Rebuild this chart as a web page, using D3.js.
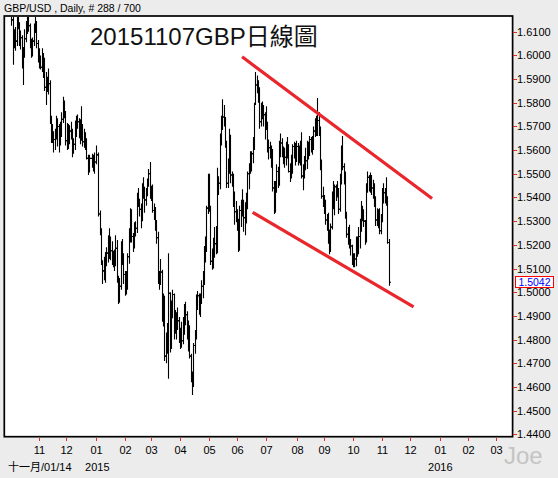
<!DOCTYPE html>
<html><head><meta charset="utf-8">
<script src="https://cdn.jsdelivr.net/npm/d3@7"></script>
<style>body{margin:0;background:#ececec} svg{display:block}</style>
</head><body><svg id="c" width="558" height="478"></svg>
<script>
// ---------------- DATA ----------------
const symbolHeader = "GBP/USD , Daily, # 288 / 700";
const chartTitle = "20151107GBP日線圖";
const firstDate = "2014-09-29";
const axisEnd = "2016-03-31";
const holidays = ["2014-12-25", "2015-01-01"];
const startLabel = "十一月/01/14";
const yearLabels = [{date: "2015-01-02", text: "2015"}, {date: "2016-01-01", text: "2016"}];
const yTicks = [1.61,1.60,1.59,1.58,1.57,1.56,1.55,1.54,1.53,1.52,1.51,1.50,1.49,1.48,1.47,1.46,1.45,1.44];
const lastPrice = 1.5042;
const channelUpper = [{date: "2015-06-04", price: 1.5994}, {date: "2015-12-23", price: 1.5396}];
const channelLower = [{date: "2015-06-16", price: 1.5337}, {date: "2015-12-03", price: 1.4938}];
const watermark = "Joe";

const openP = [
1.6225,1.6245,1.6215,1.6200,1.6150,1.6045,1.6085,1.6060,1.6150,1.6125,1.6085,1.6075,1.5960,1.6020,1.6070,1.6125,1.6160,1.6125,1.6050,1.6005,1.6060,1.6125,1.6135,1.6050,1.6005,
1.5995,1.5950,1.6000,1.5960,1.5865,1.5895,1.5865,1.5880,1.5725,1.5675,1.5665,1.5645,1.5655,1.5710,1.5700,1.5650,1.5700,1.5730,1.5800,1.5750,
1.5640,1.5695,1.5650,1.5680,1.5665,1.5590,1.5625,1.5690,1.5720,1.5720,1.5710,1.5650,1.5700,1.5635,1.5665,1.5640,1.5565,1.5515,1.5565,1.5540,1.5525,1.5550,
1.5580,1.5330,1.5250,1.5125,1.5090,1.5095,1.5140,1.5165,1.5200,1.5190,1.5175,1.5135,1.5140,1.5120,1.5185,1.5055,1.4970,1.5025,1.5200,1.5160,1.5075,
1.5040,1.5055,1.5150,1.5235,1.5345,1.5235,1.5205,1.5275,1.5270,1.5385,1.5390,1.5350,1.5310,1.5440,1.5420,1.5390,1.5435,1.5465,1.5500,1.5405,
1.5435,1.5345,1.5345,1.5275,1.5230,1.5050,1.5065,1.5085,1.4895,1.4975,1.4730,1.4805,1.4780,1.4995,1.4775,1.4910,1.4990,1.4840,1.4895,1.4890,1.4880,1.4800,
1.4820,1.4795,1.4870,1.4930,1.4905,1.4815,1.4850,1.4730,1.4630,1.4625,1.4775,1.4810,1.4965,1.4985,1.4940,1.4965,1.5025,1.5050,1.5175,1.5185,1.5355,1.5480,
1.5350,1.5130,1.5135,1.5160,1.5205,1.5265,1.5460,1.5460,1.5650,1.5725,1.5740,1.5730,1.5635,1.5460,1.5520,1.5660,1.5495,1.5495,1.5395,1.5340,1.5330,
1.5285,1.5190,1.5345,1.5345,1.5385,1.5315,1.5345,1.5370,1.5500,1.5530,1.5565,1.5585,1.5645,1.5795,1.5875,1.5865,1.5850,1.5720,1.5770,1.5770,1.5750,1.5745,
1.5710,1.5610,1.5610,1.5605,1.5595,1.5440,1.5345,1.5440,1.5510,1.5460,1.5625,1.5630,1.5610,1.5580,1.5570,1.5610,1.5620,1.5510,1.5520,1.5540,1.5615,1.5615,1.5580,
1.5615,1.5605,1.5610,1.5595,1.5490,1.5495,1.5560,1.5555,1.5615,1.5595,1.5645,1.5605,1.5635,1.5680,1.5705,1.5700,1.5725,1.5690,1.5550,1.5405,1.5375,
1.5345,1.5305,1.5285,1.5240,1.5180,1.5275,1.5405,1.5370,1.5445,1.5430,1.5420,1.5350,1.5480,1.5605,1.5530,1.5505,1.5325,1.5245,1.5215,1.5205,1.5195,1.5145,
1.5125,1.5140,1.5180,1.5180,1.5235,1.5285,1.5335,1.5315,1.5300,1.5235,1.5445,1.5485,1.5450,1.5480,1.5440,1.5455,1.5380,1.5305,1.5340,1.5335,1.5260,1.5310,
1.5430,1.5420,1.5420,1.5380,1.5210];

const highP = [
1.6290,1.6260,1.6240,1.6225,1.6175,1.6110,1.6120,1.6170,1.6225,1.6140,1.6105,1.6085,1.6035,1.6110,1.6145,1.6185,1.6180,1.6135,1.6070,1.6075,1.6135,1.6170,1.6145,1.6065,1.6030,
1.6000,1.6030,1.6010,1.5990,1.5930,1.5910,1.5945,1.5895,1.5745,1.5710,1.5680,1.5690,1.5745,1.5735,1.5710,1.5720,1.5760,1.5825,1.5810,1.5765,
1.5715,1.5710,1.5705,1.5720,1.5690,1.5650,1.5725,1.5745,1.5750,1.5735,1.5730,1.5785,1.5710,1.5690,1.5675,1.5650,1.5580,1.5580,1.5585,1.5580,1.5590,1.5620,
1.5590,1.5345,1.5270,1.5135,1.5150,1.5170,1.5190,1.5240,1.5270,1.5235,1.5215,1.5175,1.5180,1.5240,1.5220,1.5070,1.5060,1.5215,1.5225,1.5165,1.5090,
1.5090,1.5165,1.5270,1.5355,1.5350,1.5250,1.5295,1.5300,1.5420,1.5440,1.5395,1.5375,1.5460,1.5485,1.5445,1.5440,1.5480,1.5520,1.5550,1.5450,
1.5455,1.5375,1.5360,1.5305,1.5255,1.5090,1.5140,1.5095,1.4995,1.4985,1.4830,1.4870,1.5165,1.5000,1.4965,1.5010,1.4995,1.4925,1.4915,1.4935,1.4895,1.4850,
1.4875,1.4895,1.4950,1.4960,1.4920,1.4880,1.4860,1.4740,1.4665,1.4785,1.4840,1.4990,1.5005,1.4995,1.4995,1.5050,1.5090,1.5195,1.5235,1.5365,1.5500,1.5500,
1.5365,1.5185,1.5230,1.5275,1.5280,1.5525,1.5490,1.5670,1.5745,1.5815,1.5790,1.5740,1.5640,1.5565,1.5690,1.5665,1.5510,1.5500,1.5425,1.5385,1.5350,
1.5310,1.5365,1.5390,1.5435,1.5390,1.5380,1.5420,1.5510,1.5545,1.5595,1.5595,1.5655,1.5800,1.5930,1.5915,1.5895,1.5865,1.5800,1.5805,1.5790,1.5760,1.5785,
1.5720,1.5645,1.5635,1.5620,1.5605,1.5470,1.5470,1.5540,1.5530,1.5640,1.5670,1.5650,1.5615,1.5610,1.5635,1.5655,1.5625,1.5545,1.5580,1.5625,1.5635,1.5630,1.5640,
1.5630,1.5620,1.5640,1.5675,1.5540,1.5575,1.5610,1.5640,1.5635,1.5660,1.5655,1.5660,1.5700,1.5735,1.5745,1.5820,1.5760,1.5700,1.5560,1.5445,1.5410,
1.5390,1.5330,1.5335,1.5265,1.5290,1.5425,1.5470,1.5455,1.5455,1.5470,1.5440,1.5500,1.5620,1.5660,1.5545,1.5510,1.5340,1.5275,1.5285,1.5225,1.5200,1.5165,
1.5165,1.5235,1.5235,1.5275,1.5310,1.5385,1.5365,1.5350,1.5305,1.5460,1.5510,1.5495,1.5505,1.5495,1.5475,1.5460,1.5405,1.5355,1.5350,1.5355,1.5330,1.5440,
1.5460,1.5440,1.5485,1.5405,1.5225];

const lowP = [
1.6215,1.6185,1.6170,1.6125,1.5960,1.6030,1.6020,1.6040,1.6110,1.6040,1.6025,1.5945,1.5875,1.5990,1.6055,1.6090,1.6100,1.6030,1.5990,1.5995,1.6040,1.6095,1.6030,1.5970,1.5945,
1.5940,1.5930,1.5905,1.5850,1.5790,1.5845,1.5835,1.5710,1.5630,1.5630,1.5590,1.5600,1.5645,1.5615,1.5590,1.5620,1.5655,1.5715,1.5735,1.5620,
1.5600,1.5605,1.5625,1.5645,1.5570,1.5585,1.5600,1.5655,1.5690,1.5650,1.5625,1.5640,1.5615,1.5610,1.5600,1.5560,1.5495,1.5505,1.5525,1.5510,1.5500,1.5540,
1.5320,1.5240,1.5115,1.5035,1.5050,1.5040,1.5110,1.5125,1.5140,1.5135,1.5115,1.5105,1.5090,1.5110,1.5040,1.4950,1.4955,1.5010,1.5115,1.5035,1.4985,
1.4990,1.5010,1.5120,1.5210,1.5210,1.5170,1.5185,1.5235,1.5250,1.5360,1.5320,1.5270,1.5300,1.5395,1.5335,1.5365,1.5405,1.5445,1.5395,1.5385,
1.5335,1.5305,1.5260,1.5205,1.5035,1.5010,1.5030,1.4875,1.4855,1.4710,1.4700,1.4740,1.4635,1.4745,1.4760,1.4890,1.4800,1.4825,1.4800,1.4840,1.4785,1.4760,
1.4765,1.4780,1.4820,1.4860,1.4800,1.4750,1.4720,1.4620,1.4566,1.4600,1.4740,1.4800,1.4925,1.4905,1.4895,1.4950,1.4975,1.5030,1.5125,1.5170,1.5330,1.5340,
1.5115,1.5095,1.5100,1.5145,1.5160,1.5165,1.5410,1.5435,1.5620,1.5685,1.5700,1.5610,1.5440,1.5440,1.5500,1.5460,1.5445,1.5360,1.5285,1.5295,1.5260,
1.5170,1.5175,1.5275,1.5320,1.5255,1.5240,1.5290,1.5350,1.5435,1.5500,1.5510,1.5545,1.5600,1.5790,1.5840,1.5800,1.5690,1.5700,1.5730,1.5700,1.5645,1.5685,
1.5590,1.5560,1.5565,1.5525,1.5425,1.5330,1.5335,1.5420,1.5440,1.5450,1.5570,1.5570,1.5540,1.5525,1.5535,1.5565,1.5505,1.5465,1.5480,1.5500,1.5565,1.5535,1.5550,
1.5535,1.5545,1.5535,1.5480,1.5430,1.5480,1.5515,1.5520,1.5560,1.5575,1.5590,1.5580,1.5600,1.5655,1.5660,1.5660,1.5660,1.5515,1.5395,1.5360,1.5330,
1.5285,1.5260,1.5205,1.5160,1.5170,1.5265,1.5350,1.5325,1.5385,1.5400,1.5330,1.5340,1.5455,1.5515,1.5455,1.5310,1.5230,1.5200,1.5185,1.5155,1.5115,1.5105,
1.5105,1.5110,1.5150,1.5160,1.5185,1.5255,1.5300,1.5275,1.5200,1.5210,1.5420,1.5425,1.5420,1.5410,1.5395,1.5360,1.5280,1.5280,1.5270,1.5245,1.5245,1.5295,
1.5375,1.5375,1.5365,1.5205,1.5027];

const closeP = [
1.6245,1.6215,1.6200,1.6150,1.6045,1.6085,1.6060,1.6150,1.6125,1.6085,1.6075,1.5960,1.6020,1.6070,1.6125,1.6160,1.6125,1.6050,1.6005,1.6060,1.6125,1.6135,1.6050,1.6005,1.5995,
1.5950,1.6000,1.5960,1.5865,1.5895,1.5865,1.5880,1.5725,1.5675,1.5665,1.5645,1.5655,1.5710,1.5700,1.5650,1.5700,1.5730,1.5800,1.5750,1.5640,
1.5695,1.5650,1.5680,1.5665,1.5590,1.5625,1.5690,1.5720,1.5720,1.5710,1.5650,1.5700,1.5635,1.5665,1.5640,1.5565,1.5515,1.5565,1.5540,1.5525,1.5550,1.5580,
1.5330,1.5250,1.5125,1.5090,1.5095,1.5140,1.5165,1.5200,1.5190,1.5175,1.5135,1.5140,1.5120,1.5185,1.5055,1.4970,1.5025,1.5200,1.5160,1.5075,1.5040,
1.5055,1.5150,1.5235,1.5345,1.5235,1.5205,1.5275,1.5270,1.5385,1.5390,1.5350,1.5310,1.5440,1.5420,1.5390,1.5435,1.5465,1.5500,1.5405,1.5435,
1.5345,1.5345,1.5275,1.5230,1.5050,1.5065,1.5085,1.4895,1.4975,1.4730,1.4805,1.4780,1.4995,1.4775,1.4910,1.4990,1.4840,1.4895,1.4890,1.4880,1.4800,1.4820,
1.4795,1.4870,1.4930,1.4905,1.4815,1.4850,1.4730,1.4630,1.4625,1.4775,1.4810,1.4965,1.4985,1.4940,1.4965,1.5025,1.5050,1.5175,1.5185,1.5355,1.5480,1.5350,
1.5130,1.5135,1.5160,1.5205,1.5265,1.5460,1.5460,1.5650,1.5725,1.5740,1.5730,1.5635,1.5460,1.5520,1.5660,1.5495,1.5495,1.5395,1.5340,1.5330,1.5285,
1.5190,1.5345,1.5345,1.5385,1.5315,1.5345,1.5370,1.5500,1.5530,1.5565,1.5585,1.5645,1.5795,1.5875,1.5865,1.5850,1.5720,1.5770,1.5770,1.5750,1.5745,1.5710,
1.5610,1.5610,1.5605,1.5595,1.5440,1.5345,1.5440,1.5510,1.5460,1.5625,1.5630,1.5610,1.5580,1.5570,1.5610,1.5620,1.5510,1.5520,1.5540,1.5615,1.5615,1.5580,1.5615,
1.5605,1.5610,1.5595,1.5490,1.5495,1.5560,1.5555,1.5615,1.5595,1.5645,1.5605,1.5635,1.5680,1.5705,1.5700,1.5725,1.5690,1.5550,1.5405,1.5375,1.5345,
1.5305,1.5285,1.5240,1.5180,1.5275,1.5405,1.5370,1.5445,1.5430,1.5420,1.5350,1.5480,1.5605,1.5530,1.5505,1.5325,1.5245,1.5215,1.5205,1.5195,1.5145,1.5125,
1.5140,1.5180,1.5180,1.5235,1.5285,1.5335,1.5315,1.5300,1.5235,1.5445,1.5485,1.5450,1.5480,1.5440,1.5455,1.5380,1.5305,1.5340,1.5335,1.5260,1.5310,1.5430,
1.5420,1.5420,1.5380,1.5210,1.5042];

// ---------------- LAYOUT ----------------
const W = 558, H = 478;
const plot = {left: 4, top: 16, right: 512, bottom: 437};
const FONT = "'Liberation Sans', Arial, 'Noto Sans CJK TC', sans-serif";
const RED = "#e8262b";

const parse = d3.utcParse("%Y-%m-%d"), fmt = d3.utcFormat("%Y-%m-%d");
// weekday slots (the x axis has no weekend gaps)
const slots = d3.utcDay.range(parse(firstDate), d3.utcDay.offset(parse(axisEnd), 1))
  .filter(d => d.getUTCDay() % 6 !== 0);
const slotOf = new Map(slots.map((d, i) => [fmt(d), i]));
const barDates = slots.filter(d => !holidays.includes(fmt(d))).slice(0, closeP.length);
const bars = barDates.map((d, i) => ({
  s: slotOf.get(fmt(d)), o: openP[i], h: highP[i], l: lowP[i], c: closeP[i]
}));

const x = d3.scaleLinear().domain([-2.5, 382.6]).range([plot.left, plot.right]);
const y = d3.scaleLinear().domain([1.44, 1.61]).range([434.3, 31.7]);

const svg = d3.select("#c");
svg.append("rect").attr("width", W).attr("height", H).attr("fill", "#ececec");
svg.append("rect").attr("x", plot.left).attr("y", plot.top)
  .attr("width", plot.right - plot.left).attr("height", plot.bottom - plot.top).attr("fill", "#fff");

svg.append("defs").append("clipPath").attr("id", "clip").append("rect")
  .attr("x", plot.left + 1).attr("y", plot.top + 1)
  .attr("width", plot.right - plot.left - 2).attr("height", plot.bottom - plot.top - 2);

// header
svg.append("text").attr("x", 4).attr("y", 11.5).attr("font-family", FONT)
  .attr("font-size", 10.5).attr("fill", "#000").text(symbolHeader);

const g = svg.append("g").attr("clip-path", "url(#clip)");

// OHLC bars
const px = v => Math.round(x(v)) + 0.5;
const bg = g.append("g").attr("stroke", "#000").attr("stroke-width", 1.1).attr("fill", "none");
bg.selectAll("path.bar").data(bars).join("path").attr("class", "bar")
  .attr("d", b => {
    const xc = px(b.s);
    return `M${xc},${y(b.h)}V${y(b.l)}M${xc - 1.5},${y(b.o)}H${xc}M${xc},${y(b.c)}H${xc + 1.5}`;
  });

// channel lines
const line = d3.line().x(d => x(slotOf.get(d.date))).y(d => y(d.price));
[channelUpper, channelLower].forEach(ch => {
  g.append("path").attr("d", line(ch)).attr("stroke", RED).attr("stroke-width", 3.2)
    .attr("fill", "none");
});

// title
svg.append("text").attr("x", 90).attr("y", 45).attr("font-family", FONT)
  .attr("font-size", 24).attr("fill", "#111").text(chartTitle);

// plot frame
svg.append("rect").attr("x", plot.left + 0.3).attr("y", plot.top)
  .attr("width", plot.right - plot.left + 0.3).attr("height", plot.bottom - plot.top - 0.3)
  .attr("fill", "none").attr("stroke", "#000").attr("stroke-width", 1.7);

// y axis
const ya = svg.append("g");
yTicks.forEach(v => {
  const yy = Math.round(y(v)) + 0.5;
  ya.append("line").attr("x1", plot.right + 1).attr("x2", plot.right + 5)
    .attr("y1", yy).attr("y2", yy).attr("stroke", RED).attr("stroke-width", 1);
  ya.append("text").attr("x", plot.right + 5).attr("y", yy).attr("dy", "0.36em")
    .attr("font-family", FONT).attr("font-size", 11).attr("fill", "#000")
    .text(v.toFixed(4));
});

// last price box
const ly = y(lastPrice);
svg.append("rect").attr("x", 515.5).attr("y", Math.round(ly) - 5.5).attr("width", 38).attr("height", 11)
  .attr("fill", "#fff").attr("stroke", "#ff0000").attr("stroke-width", 1);
svg.append("text").attr("x", 534.5).attr("y", Math.round(ly) + 3.8)
  .attr("text-anchor", "middle").attr("font-family", FONT).attr("font-size", 10.5)
  .attr("fill", "#0000ff").text(lastPrice.toFixed(4));

// x axis: month ticks
const monthStarts = slots.map((d, i) => ({d, i}))
  .filter(o => o.i > 0 && o.d.getUTCMonth() !== slots[o.i - 1].getUTCMonth())
  .filter(o => x(o.i) - 1 > plot.left + 20);
const xa = svg.append("g");
monthStarts.forEach(o => {
  const xx = Math.round(x(o.i) - 1) + 0.5;
  xa.append("line").attr("x1", xx).attr("x2", xx).attr("y1", plot.bottom + 1).attr("y2", plot.bottom + 4)
    .attr("stroke", RED).attr("stroke-width", 1);
  xa.append("text").attr("x", xx).attr("y", 454).attr("text-anchor", "middle")
    .attr("font-family", FONT).attr("font-size", 11).attr("fill", "#000")
    .text(d3.utcFormat("%m")(o.d));
});
xa.append("text").attr("x", 8).attr("y", 471).attr("font-family", FONT)
  .attr("font-size", 11).attr("fill", "#000").text(startLabel);
yearLabels.forEach(yl => {
  xa.append("text").attr("x", x(slotOf.get(yl.date)) - 1).attr("y", 471)
    .attr("text-anchor", "middle").attr("font-family", FONT).attr("font-size", 11)
    .attr("fill", "#000").text(yl.text);
});

// watermark
svg.append("text").attr("x", 504).attr("y", 464).attr("font-family", FONT)
  .attr("font-size", 24).attr("fill", "#c4c4c4").text(watermark);
</script></body></html>
